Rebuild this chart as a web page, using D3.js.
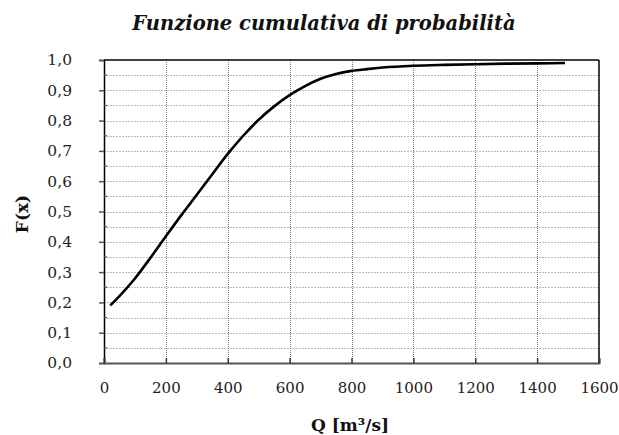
<!DOCTYPE html>
<html><head><meta charset="utf-8">
<script src="https://cdn.jsdelivr.net/npm/d3@7"></script>
<style>body{margin:0;background:#fff}svg{display:block}</style>
</head><body>
<svg id="c" width="619" height="435"></svg>
<script>
const titleText = "Funzione cumulativa di probabilità";
const xLabel = "Q [m³/s]";
const yLabel = "F(x)";
const qValues = [20,50,100,150,200,250,300,350,400,450,500,550,600,650,700,750,800,850,900,1000,1100,1200,1300,1400,1490];
const fValues = [0.19,0.221,0.279,0.347,0.418,0.488,0.555,0.623,0.69,0.75,0.803,0.847,0.884,0.914,0.938,0.954,0.964,0.970,0.975,0.981,0.984,0.986,0.988,0.989,0.99];
const xTicks = [0,200,400,600,800,1000,1200,1400,1600];
const yTicks = [0,0.1,0.2,0.3,0.4,0.5,0.6,0.7,0.8,0.9,1.0];
const yMinor = [0.05,0.15,0.25,0.35,0.45,0.55,0.65,0.75,0.85,0.95];

const L=104,R=599,T=60,B=363;
const svg=d3.select("#c");
const x=d3.scaleLinear().domain([0,1600]).range([L,R]);
const y=d3.scaleLinear().domain([0,1]).range([B,T]);
const font="DejaVu Serif, serif";

// horizontal grid
svg.append("g").selectAll("line").data(yTicks.concat(yMinor).filter(v=>v>0&&v<1)).join("line")
 .attr("x1",L).attr("x2",R).attr("y1",d=>Math.round(y(d))+0.5).attr("y2",d=>Math.round(y(d))+0.5)
 .attr("stroke","#bbb").attr("stroke-width",1).attr("stroke-dasharray","2,1");
// vertical grid
svg.append("g").selectAll("line").data(xTicks.filter(v=>v>0&&v<1600)).join("line")
 .attr("x1",d=>Math.round(x(d))+0.5).attr("x2",d=>Math.round(x(d))+0.5).attr("y1",T).attr("y2",B)
 .attr("stroke","#777").attr("stroke-width",1).attr("stroke-dasharray","1,1");

// frame
svg.append("line").attr("x1",L).attr("x2",R).attr("y1",T).attr("y2",T).attr("stroke","#000").attr("stroke-width",1.5);
svg.append("line").attr("x1",R).attr("x2",R).attr("y1",T).attr("y2",B).attr("stroke","#000").attr("stroke-width",1.5);

// y axis
const ya=svg.append("g").attr("transform",`translate(${L},0)`)
 .call(d3.axisLeft(y).tickValues(yTicks).tickSize(5).tickPadding(27).tickFormat(d=>d3.format(".1f")(d).replace(".",",")));
ya.select(".domain").attr("stroke","#000").attr("stroke-width",1.5);
ya.selectAll(".tick line").attr("stroke","#555").attr("stroke-width",1.5);
ya.selectAll("text").attr("font-family",font).attr("font-size",15.5).attr("fill","#222");
svg.append("g").selectAll("line").data(yMinor).join("line")
 .attr("x1",L).attr("x2",L+3).attr("y1",d=>y(d)).attr("y2",d=>y(d)).attr("stroke","#555").attr("stroke-width",1.2);

// x axis
const xa=svg.append("g").attr("transform",`translate(0,${B})`)
 .call(d3.axisBottom(x).tickValues(xTicks).tickSize(-5).tickPadding(19).tickFormat(d3.format("d")));
xa.select(".domain").attr("stroke","#555").attr("stroke-width",2);
xa.selectAll(".tick line").attr("stroke","#333").attr("stroke-width",1.5);
xa.selectAll("text").attr("font-family",font).attr("font-size",15).attr("fill","#222");

// curve
const pts=qValues.map((q,i)=>[q,fValues[i]]);
svg.append("path").datum(pts)
 .attr("d",d3.line().x(d=>x(d[0])).y(d=>y(d[1])).curve(d3.curveMonotoneX))
 .attr("fill","none").attr("stroke","#000").attr("stroke-width",2.6);

// titles
svg.append("text").attr("x",324).attr("y",30).attr("text-anchor","middle")
 .attr("font-family",font).attr("font-size",19.5).attr("font-weight","bold").attr("font-style","italic")
 .attr("fill","#111").text(titleText);
svg.append("text").attr("x",350).attr("y",431).attr("text-anchor","middle")
 .attr("font-family",font).attr("font-size",17).attr("font-weight","bold").attr("fill","#111").text(xLabel);
svg.append("text").attr("transform","translate(28,214) rotate(-90)").attr("text-anchor","middle")
 .attr("font-family",font).attr("font-size",17).attr("font-weight","bold").attr("fill","#111").text(yLabel);
</script>
</body></html>
